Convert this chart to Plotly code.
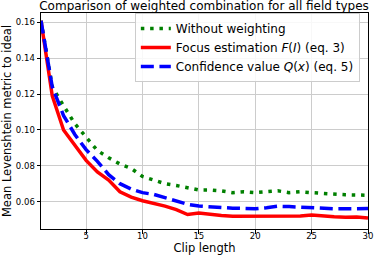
import plotly.graph_objects as go

clip_length = list(range(1, 31))
without_weighting = [0.161, 0.124, 0.1135, 0.1035, 0.096, 0.0885, 0.0845, 0.081, 0.0785, 0.0740,
                     0.0720, 0.0700, 0.0690, 0.0675, 0.0665, 0.0665, 0.0660, 0.0650, 0.0655, 0.0650,
                     0.0655, 0.0660, 0.0650, 0.0655, 0.0650, 0.0645, 0.0640, 0.0638, 0.0637, 0.0635]
focus_estimation = [0.161, 0.119, 0.100, 0.0915, 0.083, 0.0765, 0.0720, 0.0655, 0.0625, 0.0605,
                    0.0590, 0.0575, 0.0555, 0.0528, 0.0536, 0.0527, 0.0522, 0.0518, 0.0518, 0.0518,
                    0.0522, 0.0520, 0.0520, 0.0520, 0.0525, 0.0518, 0.0515, 0.0513, 0.0514, 0.0508]
confidence_value = [0.161, 0.124, 0.108, 0.0975, 0.089, 0.0825, 0.0750, 0.0700, 0.0670, 0.0650,
                    0.0640, 0.0620, 0.0600, 0.0585, 0.0575, 0.0570, 0.0567, 0.0563, 0.0562, 0.0560,
                    0.0566, 0.0574, 0.0572, 0.0568, 0.0566, 0.0562, 0.0560, 0.0560, 0.0561, 0.0561]

x_ticks = [5, 10, 15, 20, 25, 30]
y_ticks = [0.06, 0.08, 0.10, 0.12, 0.14, 0.16]

FONT = "DejaVu Sans"

fig = go.Figure()
fig.add_trace(go.Scatter(x=clip_length, y=without_weighting, mode="lines",
                         name="Without weighting",
                         line=dict(color="#008000", width=3.5, dash="3.5px,5.8px")))
fig.add_trace(go.Scatter(x=clip_length, y=focus_estimation, mode="lines",
                         name="Focus estimation <i>F</i>(<i>I</i>) (eq. 3)",
                         line=dict(color="#ff0000", width=3.5)))
fig.add_trace(go.Scatter(x=clip_length, y=confidence_value, mode="lines",
                         name="Confidence value <i>Q</i>(<i>x</i>) (eq. 5)",
                         line=dict(color="#0000ff", width=3.5, dash="13px,5.6px")))

axis_common = dict(showline=True, linecolor="black", linewidth=1, mirror=True,
                   ticks="outside", ticklen=3.5, tickcolor="black", tickwidth=1,
                   showgrid=True, gridcolor="#cccccc", gridwidth=1, zeroline=False,
                   automargin=False, ticklabeloverflow="allow",
                   tickfont=dict(family=FONT, size=8.5, color="black"))

fig.update_xaxes(range=[1, 30], tickvals=x_ticks, ticklabelstandoff=-5,
                 title=dict(text="Clip length", font=dict(family=FONT, size=11.5, color="black"),
                            standoff=3),
                 **axis_common)
fig.update_yaxes(range=[0.0447, 0.1653], tickvals=y_ticks, tickformat=".2f",
                 title=dict(text="Mean Levenshtein metric to ideal",
                            font=dict(family=FONT, size=11.5, color="black"), standoff=4),
                 **axis_common)

fig.update_layout(
    width=374, height=258,
    margin=dict(l=41, r=6, t=13, b=29),
    paper_bgcolor="white", plot_bgcolor="white",
    font=dict(family=FONT, color="black"),
    title=dict(text="Comparison of weighted combination for all field types",
               font=dict(family=FONT, size=12, color="black"),
               x=0.5455, xanchor="center", yref="container", y=1 - 5.5 / 258, yanchor="middle"),
    legend=dict(x=0.975, y=1.0, xanchor="right", yanchor="top",
                bgcolor="rgba(255,255,255,0.85)", bordercolor="#cccccc", borderwidth=1,
                font=dict(family=FONT, size=12, color="black"),
                tracegroupgap=0, itemwidth=30),
    showlegend=True,
)

fig.write_html("out.html", config={"displayModeBar": False},
               post_script="document.body.style.margin='0px';document.body.style.overflow='hidden';")
